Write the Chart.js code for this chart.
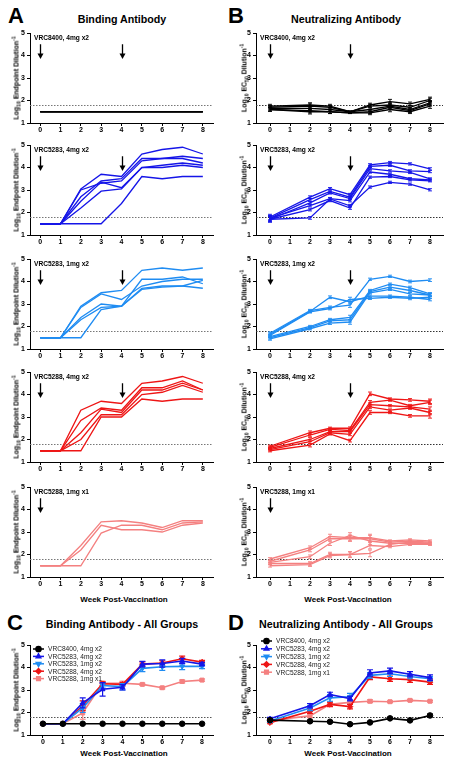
<!DOCTYPE html>
<html>
<head>
<meta charset="utf-8">
<script src="https://cdn.jsdelivr.net/npm/chart.js@4.4.0/dist/chart.umd.min.js"></script>
<style>
  body { margin:0; width:452px; height:766px; position:relative; overflow:hidden; background:#fff;
         font-family:"Liberation Sans", Arial, Helvetica, sans-serif; color:#000; }
  canvas { position:absolute; }
  .txt { position:absolute; white-space:nowrap; font-weight:bold; line-height:1; }
  .letter { font-size:22px; }
  .ttl { font-size:10.7px; transform:translateX(-50%); }
  .xt { font-size:8px; transform:translateX(-50%); }
  .yt { font-size:7px; transform:translate(-50%,-50%) rotate(-90deg); }
  .yt sub, .yt sup { font-size:0.72em; line-height:0; }
</style>
</head>
<body>
<div class="txt letter" style="left:8px;top:5px">A</div>
<div class="txt letter" style="left:228px;top:5px">B</div>
<div class="txt letter" style="left:7px;top:612px">C</div>
<div class="txt letter" style="left:228px;top:612px">D</div>
<div class="txt ttl" style="left:122px;top:14px">Binding Antibody</div>
<div class="txt ttl" style="left:346px;top:14px">Neutralizing Antibody</div>
<div class="txt ttl" style="left:122px;top:619px">Binding Antibody - All Groups</div>
<div class="txt ttl" style="left:346px;top:619px">Neutralizing Antibody - All Groups</div>
<div class="txt xt" style="left:124px;top:596px">Week Post-Vaccination</div>
<div class="txt xt" style="left:348px;top:596px">Week Post-Vaccination</div>
<div class="txt xt" style="left:124px;top:750px">Week Post-Vaccination</div>
<div class="txt xt" style="left:348px;top:750px">Week Post-Vaccination</div>
<script>
const FONT = '"Liberation Sans", Arial, Helvetica, sans-serif';

// weeks sampled
const weeksBind = [0, 1, 2, 3, 4, 5, 6, 7, 8];
const weeksNeut = [0, 2, 3, 4, 5, 6, 7, 8];
const xTickVals = [0, 1, 2, 3, 4, 5, 6, 7, 8];
const yTickVals = [1, 2, 3, 4, 5];
const lodValue = 1.8;

const groupNames = ['VRC8400, 4mg x2', 'VRC5283, 4mg x2', 'VRC5283, 1mg x2', 'VRC5288, 4mg x2', 'VRC5288, 1mg x1'];
const groupColors = ['#000000', '#1515e8', '#1f8cf2', '#ee1515', '#f48080'];
const groupMarkers = ['circle', 'triangle', 'triangle', 'rectRot', 'rect'];
const groupMarkerRot = [0, 0, 180, 0, 0];
const groupDoseWeeks = [[0, 4], [0, 4], [0, 4], [0, 4], [0]];

// binding antibody, individual animals (log10 endpoint dilution)
const bind8400 = [
  [1.5, 1.5, 1.5, 1.5, 1.5, 1.5, 1.5, 1.5, 1.5],
  [1.5, 1.5, 1.5, 1.5, 1.5, 1.5, 1.5, 1.5, 1.5],
  [1.5, 1.5, 1.5, 1.5, 1.5, 1.5, 1.5, 1.5, 1.5]
];
const bind5283hi = [
  [1.5, 1.5, 3.05, 3.7, 3.6, 4.6, 4.8, 4.9, 4.6],
  [1.5, 1.5, 2.7, 3.4, 3.5, 4.4, 4.4, 4.5, 4.4],
  [1.5, 1.5, 3.0, 3.3, 3.4, 4.3, 4.4, 4.4, 4.2],
  [1.5, 1.5, 2.5, 3.35, 3.1, 4.0, 4.1, 4.2, 4.1],
  [1.5, 1.5, 2.2, 2.95, 3.05, 4.0, 4.0, 4.1, 4.0],
  [1.5, 1.5, 1.5, 1.5, 2.4, 3.6, 3.5, 3.6, 3.6]
];
const bind5283lo = [
  [1.5, 1.5, 2.9, 3.5, 3.6, 4.5, 4.6, 4.5, 4.6],
  [1.5, 1.5, 2.85, 3.45, 3.2, 3.8, 4.0, 4.1, 4.1],
  [1.5, 1.5, 2.4, 3.0, 2.9, 4.1, 4.1, 4.2, 3.9],
  [1.5, 1.5, 2.3, 2.85, 2.9, 3.7, 3.8, 3.8, 3.7],
  [1.5, 1.5, 1.5, 2.75, 2.9, 3.65, 3.75, 3.8, 4.05]
];
const bind5288hi = [
  [1.5, 1.5, 3.3, 3.7, 3.6, 4.5, 4.6, 4.8, 4.5],
  [1.5, 1.5, 2.85, 3.4, 3.3, 4.3, 4.3, 4.6, 4.2],
  [1.5, 1.5, 2.3, 3.35, 3.2, 4.2, 4.2, 4.5, 4.2],
  [1.5, 1.5, 2.0, 3.1, 3.1, 4.0, 4.1, 4.4, 4.1],
  [1.5, 1.5, 1.5, 3.0, 3.0, 3.8, 3.7, 3.8, 3.8]
];
const bind5288lo = [
  [1.5, 1.5, 2.4, 3.45, 3.5, 3.4, 3.2, 3.5, 3.5],
  [1.5, 1.5, 2.2, 3.3, 3.1, 3.1, 3.0, 3.3, 3.4],
  [1.5, 1.5, 1.5, 2.95, 3.3, 3.3, 3.1, 3.4, 3.45]
];

// neutralizing antibody, individual animals (log10 EC50 dilution)
const neut8400 = [
  [1.75, 1.8, 1.75, 1.5, 1.8, 1.95, 1.85, 2.05],
  [1.7, 1.75, 1.7, 1.5, 1.75, 1.8, 1.7, 2.0],
  [1.65, 1.65, 1.6, 1.5, 1.6, 1.75, 1.6, 1.9],
  [1.6, 1.55, 1.5, 1.45, 1.5, 1.7, 1.55, 1.85],
  [1.6, 1.5, 1.5, 1.45, 1.45, 1.6, 1.5, 1.75]
];
const neut5283hi = [
  [1.8, 2.68, 3.06, 2.79, 4.12, 4.22, 4.16, 3.94],
  [1.75, 2.57, 2.94, 2.68, 4.05, 4.1, 3.85, 3.82],
  [1.7, 2.43, 2.87, 2.62, 3.95, 3.85, 3.78, 3.49],
  [1.75, 2.31, 2.62, 2.53, 3.8, 3.7, 3.5, 3.45],
  [1.7, 2.13, 2.53, 2.2, 3.57, 3.6, 3.45, 3.41],
  [1.7, 1.76, 2.6, 2.3, 3.13, 3.34, 3.26, 3.01]
];
const neut5283lo = [
  [1.7, 2.71, 2.85, 2.95, 4.1, 4.23, 4.0, 4.06],
  [1.65, 2.67, 3.3, 3.1, 3.35, 3.35, 3.3, 3.2],
  [1.6, 2.65, 2.8, 3.2, 3.25, 3.3, 3.25, 3.3],
  [1.55, 2.0, 2.3, 2.4, 3.6, 3.88, 3.73, 3.45],
  [1.5, 1.95, 2.25, 2.3, 3.55, 3.75, 3.6, 3.4],
  [1.45, 1.9, 2.15, 2.2, 3.5, 3.65, 3.45, 3.4]
];
const neut5288hi = [
  [1.7, 2.3, 2.5, 2.5, 4.03, 3.8, 3.76, 3.7],
  [1.65, 2.2, 2.45, 2.4, 3.65, 3.75, 3.5, 3.65],
  [1.6, 2.0, 2.35, 2.35, 3.55, 3.5, 3.45, 3.35],
  [1.55, 1.9, 2.3, 2.23, 3.45, 3.31, 3.4, 3.2],
  [1.5, 1.75, 2.25, 1.95, 3.2, 3.2, 3.05, 3.05]
];
const neut5288lo = [
  [1.8, 2.3, 2.8, 2.75, 2.75, 2.6, 2.65, 2.6],
  [1.7, 2.2, 2.7, 2.7, 2.7, 2.55, 2.6, 2.55],
  [1.65, 1.9, 2.5, 2.85, 2.6, 2.5, 2.5, 2.5],
  [1.6, 1.6, 2.0, 2.0, 2.05, 2.45, 2.55, 2.5],
  [1.5, 1.55, 1.95, 2.0, 2.4, 2.35, 2.45, 2.45]
];
// replicate spread per week, individual neutralization curves
const neutSpread8400 = [0.08, 0.1, 0.08, 0.03, 0.08, 0.1, 0.08, 0.1];
const neutSpread5283hi = [0.12, 0.06, 0.05, 0.06, 0.05, 0.05, 0.05, 0.05];
const neutSpread5283lo = [0.06, 0.05, 0.06, 0.1, 0.05, 0.05, 0.06, 0.06];
const neutSpread5288hi = [0.05, 0.08, 0.05, 0.06, 0.08, 0.05, 0.06, 0.1];
const neutSpread5288lo = [0.06, 0.08, 0.1, 0.12, 0.15, 0.05, 0.05, 0.05];

// group means and SEM
const bindMean = [
  [1.5, 1.5, 1.5, 1.5, 1.5, 1.5, 1.5, 1.5, 1.5],
  [1.5, 1.5, 2.43, 3.03, 3.12, 4.15, 4.18, 4.29, 4.15],
  [1.5, 1.5, 2.2, 3.2, 3.15, 3.96, 4.03, 4.05, 4.05],
  [1.5, 1.5, 2.3, 3.28, 3.25, 4.15, 4.2, 4.39, 4.24],
  [1.5, 1.5, 1.98, 3.3, 3.3, 3.25, 3.1, 3.38, 3.44]
];
const bindSem = [
  [0, 0, 0, 0, 0, 0, 0, 0, 0],
  [0, 0, 0.22, 0.3, 0.12, 0.12, 0.16, 0.12, 0.08],
  [0, 0, 0.2, 0.12, 0.14, 0.14, 0.16, 0.14, 0.1],
  [0, 0, 0.22, 0.08, 0.08, 0.1, 0.1, 0.12, 0.08],
  [0, 0, 0.28, 0.08, 0.08, 0.05, 0.05, 0.06, 0.05]
];
const neutMean = [
  [1.66, 1.61, 1.59, 1.48, 1.56, 1.74, 1.65, 1.87],
  [1.72, 2.3, 2.8, 2.62, 3.76, 3.85, 3.7, 3.55],
  [1.62, 2.2, 2.65, 2.7, 3.65, 3.72, 3.6, 3.5],
  [1.55, 2.06, 2.36, 2.26, 3.58, 3.5, 3.46, 3.35],
  [1.65, 1.85, 2.36, 2.45, 2.5, 2.48, 2.54, 2.5]
];
const neutSem = [
  [0.05, 0.04, 0.04, 0.04, 0.04, 0.05, 0.04, 0.06],
  [0.06, 0.1, 0.1, 0.1, 0.14, 0.12, 0.12, 0.12],
  [0.06, 0.12, 0.15, 0.15, 0.12, 0.12, 0.1, 0.1],
  [0.05, 0.1, 0.1, 0.1, 0.12, 0.12, 0.12, 0.1],
  [0.05, 0.08, 0.08, 0.08, 0.06, 0.04, 0.04, 0.04]
];

const indivBind = [bind8400, bind5283hi, bind5283lo, bind5288hi, bind5288lo];
const indivNeut = [neut8400, neut5283hi, neut5283lo, neut5288hi, neut5288lo];
const indivNeutSpread = [neutSpread8400, neutSpread5283hi, neutSpread5283lo, neutSpread5288hi, neutSpread5288lo];

// layout of the plot areas
const PAD_L = 18, PAD_T = 10, PAD_R = 5, PAD_B = 14;
const colA = { left: 30, right: 213, xmin: -0.5, xmax: 8.5, ytx: 16 };
const colB = { left: 256, right: 443, xmin: -0.7, xmax: 8.65, ytx: 244 };
const colC = { left: 30, right: 213, xmin: -0.65, xmax: 8.55, ytx: 16 };
const rowY = [[33, 123], [145, 235], [259, 349], [372, 462], [487, 577]];
const rowCD = [645, 735];

const errorBars = {
  id: 'errorBars',
  beforeDatasetDraw(chart, args) {
    const ds = chart.data.datasets[args.index];
    if (!ds.errors) return;
    const ctx = chart.ctx, ys = chart.scales.y;
    ctx.save();
    ctx.strokeStyle = ds.borderColor;
    ctx.lineWidth = ds.errWidth || 1;
    args.meta.data.forEach((pt, i) => {
      const e = ds.errors[i];
      if (!e) return;
      const v = ds.data[i].y, x = pt.x, c = ds.cap || 2.5;
      const y1 = ys.getPixelForValue(v - e), y2 = ys.getPixelForValue(v + e);
      ctx.beginPath();
      ctx.moveTo(x, y1); ctx.lineTo(x, y2);
      ctx.moveTo(x - c, y1); ctx.lineTo(x + c, y1);
      ctx.moveTo(x - c, y2); ctx.lineTo(x + c, y2);
      ctx.stroke();
    });
    ctx.restore();
  }
};

const lodLine = {
  id: 'lodLine',
  beforeDatasetsDraw(chart, args, opts) {
    const { ctx, chartArea: a } = chart;
    const y = Math.round(chart.scales.y.getPixelForValue(opts.value)) + 0.5;
    ctx.save();
    ctx.strokeStyle = opts.color;
    ctx.lineWidth = 1;
    ctx.setLineDash([1.5, 1.5]);
    ctx.beginPath(); ctx.moveTo(a.left, y); ctx.lineTo(a.right, y); ctx.stroke();
    ctx.restore();
  }
};

const doseArrows = {
  id: 'doseArrows',
  afterDatasetsDraw(chart, args, opts) {
    if (!opts.weeks) return;
    const ctx = chart.ctx, xs = chart.scales.x, ys = chart.scales.y;
    ctx.save();
    ctx.strokeStyle = '#000'; ctx.fillStyle = '#000'; ctx.lineWidth = 1.3;
    opts.weeks.forEach(w => {
      const x = Math.round(xs.getPixelForValue(w)) + 0.5;
      const y1 = ys.getPixelForValue(4.5), y2 = ys.getPixelForValue(3.85);
      ctx.beginPath(); ctx.moveTo(x, y1); ctx.lineTo(x, y2 - 4); ctx.stroke();
      ctx.beginPath(); ctx.moveTo(x - 3, y2 - 5.5); ctx.lineTo(x + 3, y2 - 5.5); ctx.lineTo(x, y2); ctx.closePath(); ctx.fill();
    });
    ctx.restore();
  }
};

const panelLabel = {
  id: 'panelLabel',
  afterDraw(chart, args, opts) {
    if (!opts.text) return;
    const ctx = chart.ctx, a = chart.chartArea;
    ctx.save();
    ctx.font = 'bold 6.6px ' + FONT;
    ctx.fillStyle = '#000'; ctx.textBaseline = 'middle';
    ctx.fillText(opts.text, a.left + 4, a.top + 5);
    ctx.restore();
  }
};

const groupLegend = {
  id: 'groupLegend',
  afterDraw(chart, args, opts) {
    if (!opts.show) return;
    const ctx = chart.ctx, a = chart.chartArea;
    ctx.save();
    ctx.font = '6.6px ' + FONT;
    ctx.textBaseline = 'middle';
    chart.data.datasets.forEach((ds, i) => {
      const y = a.top + opts.top + i * opts.step, x0 = a.left + opts.left;
      ctx.strokeStyle = ds.borderColor; ctx.lineWidth = 1.5;
      ctx.beginPath(); ctx.moveTo(x0, y); ctx.lineTo(x0 + 11, y); ctx.stroke();
      ctx.fillStyle = ds.borderColor;
      Chart.helpers.drawPoint(ctx, { pointStyle: ds.pointStyle, radius: 2.6, rotation: ds.rotation || 0, borderWidth: 1 }, x0 + 5.5, y);
      ctx.fillStyle = '#222';
      ctx.fillText(groupNames[i], x0 + 15, y + 0.5);
    });
    ctx.restore();
  }
};

function axis(min, max, ticks, isX) {
  return {
    type: 'linear', min: min, max: max,
    afterBuildTicks: s => { s.ticks = ticks.map(v => ({ value: v })); },
    afterFit: s => { if (isX) s.height = PAD_B; else s.width = PAD_L; },
    grid: { drawOnChartArea: false, drawTicks: true, tickLength: 3, color: '#000', lineWidth: 1 },
    border: { display: true, color: '#000', width: 1 },
    ticks: { color: '#000', font: { family: FONT, size: 7, weight: 'bold' }, padding: isX ? 0 : 2, autoSkip: false, maxRotation: 0 }
  };
}

function addCanvas(col, top, bottom) {
  const c = document.createElement('canvas');
  const W = col.right - col.left + PAD_L + PAD_R, H = bottom - top + PAD_T + PAD_B;
  c.width = W; c.height = H;
  c.style.left = (col.left - PAD_L) + 'px'; c.style.top = (top - PAD_T) + 'px';
  c.style.width = W + 'px'; c.style.height = H + 'px';
  document.body.appendChild(c);
  return c;
}

function addYTitle(col, top, bottom, neut) {
  const d = document.createElement('div');
  d.className = 'txt yt';
  d.style.left = col.ytx + 'px';
  d.style.top = ((top + bottom) / 2) + 'px';
  d.innerHTML = neut ? 'Log<sub>10</sub> EC<sub>50</sub> Dilution<sup>-1</sup>'
                     : 'Log<sub>10</sub> Endpoint Dilution<sup>-1</sup>';
  document.body.appendChild(d);
}

function makeChart(col, top, bottom, datasets, plug, lodColor) {
  const canvas = addCanvas(col, top, bottom);
  return new Chart(canvas, {
    type: 'line',
    data: { datasets: datasets },
    options: {
      responsive: false, animation: false, devicePixelRatio: 1,
      layout: { padding: { left: 0, top: PAD_T, right: PAD_R, bottom: 0 } },
      scales: { x: axis(col.xmin, col.xmax, xTickVals, true), y: axis(1, 5, yTickVals, false) },
      plugins: Object.assign({
        legend: { display: false }, tooltip: { enabled: false },
        lodLine: { value: lodValue, color: lodColor }
      }, plug)
    },
    plugins: [lodLine, errorBars, doseArrows, panelLabel, groupLegend]
  });
}

function series(weeks, vals) { return vals.map((v, i) => ({ x: weeks[i], y: v })); }

// panels A and B: individual animals
rowY.forEach((r, g) => {
  const bindSets = indivBind[g].map(vals => ({
    data: series(weeksBind, vals), borderColor: groupColors[g], borderWidth: 1.3,
    pointRadius: 0, fill: false, tension: 0
  }));
  makeChart(colA, r[0], r[1], bindSets,
    { doseArrows: { weeks: groupDoseWeeks[g] }, panelLabel: { text: groupNames[g] } }, '#777');
  addYTitle(colA, r[0], r[1], false);

  const neutSets = indivNeut[g].map(vals => ({
    data: series(weeksNeut, vals), borderColor: groupColors[g], borderWidth: 1.3,
    pointRadius: 0, fill: false, tension: 0, errors: indivNeutSpread[g], cap: 2, errWidth: 0.9
  }));
  makeChart(colB, r[0], r[1], neutSets,
    { doseArrows: { weeks: groupDoseWeeks[g] }, panelLabel: { text: groupNames[g] } }, '#333');
  addYTitle(colB, r[0], r[1], true);
});

// panels C and D: group means
function meanSets(weeks, means, sems) {
  return means.map((vals, g) => ({
    data: series(weeks, vals), borderColor: groupColors[g], backgroundColor: groupColors[g],
    borderWidth: 1.6, pointStyle: groupMarkers[g], rotation: groupMarkerRot[g],
    pointRadius: 2.8, pointBackgroundColor: groupColors[g], pointBorderWidth: 1,
    fill: false, tension: 0, errors: sems[g], cap: 3, errWidth: 1.2
  }));
}
makeChart(colC, rowCD[0], rowCD[1], meanSets(weeksBind, bindMean, bindSem),
  { groupLegend: { show: true, left: 3, top: 4, step: 7.4 } }, '#555');
addYTitle(colC, rowCD[0], rowCD[1], false);
makeChart(colB, rowCD[0], rowCD[1], meanSets(weeksNeut, neutMean, neutSem),
  { groupLegend: { show: true, left: 5, top: -4, step: 7.8 } }, '#333');
addYTitle(colB, rowCD[0], rowCD[1], true);
</script>
</body>
</html>
